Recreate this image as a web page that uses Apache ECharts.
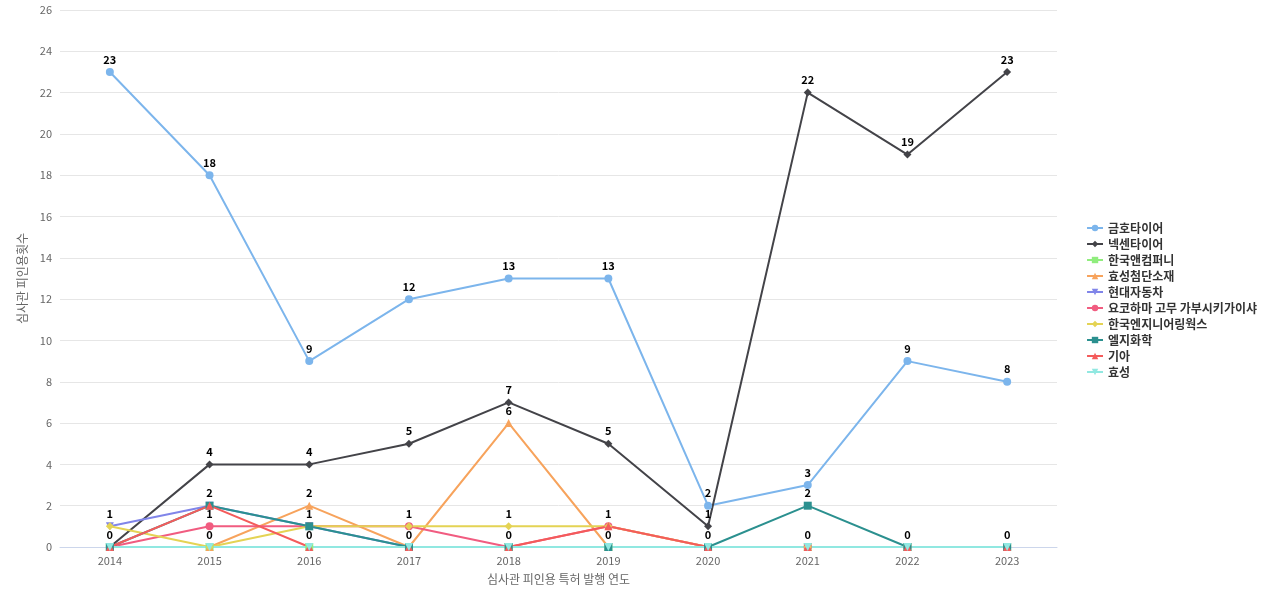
<!DOCTYPE html><html><head><meta charset="utf-8"><script src="https://cdn.jsdelivr.net/npm/echarts@6/dist/echarts.min.js"></script></head><body style="margin:0"><div id="c" style="width:1280px;height:600px"></div><script>
const years=['2014','2015','2016','2017','2018','2019','2020','2021','2022','2023'];
const names=['금호타이어','넥센타이어','한국앤컴퍼니','효성첨단소재','현대자동차','요코하마 고무 가부시키가이샤','한국엔지니어링웍스','엘지화학','기아','효성'];
const kumho=[23,18,9,12,13,13,2,3,9,8];
const nexen=[0,4,4,5,7,5,1,22,19,23];
const hankookCo=[0,0,0,0,0,0,0,0,0,0];
const hyosungAdv=[0,0,2,0,6,0,0,0,0,0];
const hyundai=[1,2,1,0,0,0,0,0,0,0];
const yokohama=[0,1,1,1,0,1,0,0,0,0];
const hankookEng=[1,0,1,1,1,1,0,0,0,0];
const lgchem=[0,2,1,0,0,0,0,2,0,0];
const kia=[0,2,0,0,0,1,0,0,0,0];
const hyosung=[0,0,0,0,0,0,0,0,0,0];
const all=[kumho,nexen,hankookCo,hyosungAdv,hyundai,yokohama,hankookEng,lgchem,kia,hyosung];
const colors=['#7cb5ec','#434348','#90ed7d','#f7a35c','#8085e9','#f15c80','#e4d354','#2b908f','#f45b5b','#91e8e1'];
const down='path://M0,0L10,0L5,9Z';
const syms=['circle','diamond','rect','triangle',down,'circle','diamond','rect','triangle',down];
const ch=echarts.init(document.getElementById('c'));
ch.setOption({
color:colors,animation:false,textStyle:{fontFamily:'Noto Sans CJK KR'},
grid:{left:60,right:223,top:10,bottom:53},
legend:{orient:'vertical',right:18,top:'middle',itemWidth:16,itemHeight:8,itemGap:4,textStyle:{fontSize:12,fontWeight:'bold',color:'#333'},data:names},
xAxis:{type:'category',data:years,name:'심사관 피인용 특허 발행 연도',nameLocation:'middle',nameGap:26,nameTextStyle:{color:'#666',fontSize:12},axisTick:{show:false},axisLine:{lineStyle:{color:'#ccd6eb'}},axisLabel:{color:'#666',fontSize:11}},
yAxis:{type:'value',min:0,max:26,interval:2,name:'심사관 피인용횟수',nameLocation:'middle',nameGap:32,nameTextStyle:{color:'#666',fontSize:12},axisLabel:{color:'#666',fontSize:11},splitLine:{lineStyle:{color:'#e6e6e6'}}},
series:names.map((n,i)=>({name:n,type:'line',data:all[i],symbol:syms[i],symbolSize:8,lineStyle:{width:2},
label:{show:true,position:'top',distance:3,fontSize:11,fontWeight:'bold',color:'#000'},labelLayout:{hideOverlap:true}}))
});
</script></body></html>
